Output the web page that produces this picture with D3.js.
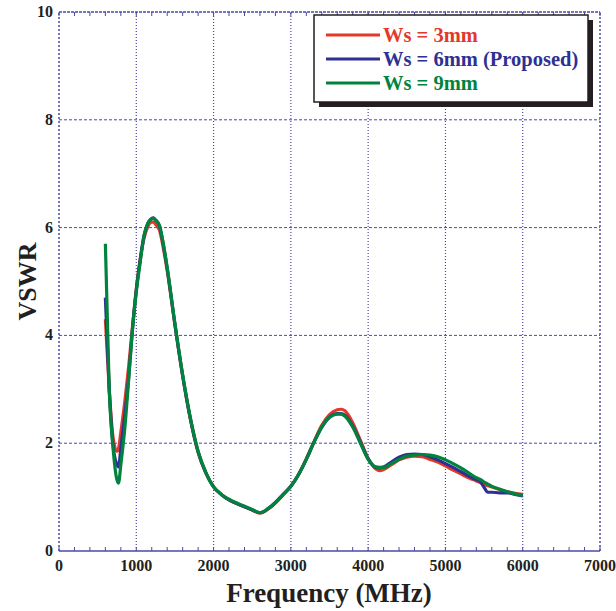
<!DOCTYPE html>
<html>
<head>
<meta charset="utf-8">
<script src="https://cdn.jsdelivr.net/npm/d3@7"></script>
<style>
  body { margin: 0; background: #fff; }
  svg { display: block; }
</style>
</head>
<body>
<div id="chart"></div>
<script>
// frequency points (MHz), shared by all three curves
var freq = [600, 650, 700, 750, 770, 800, 850, 900, 950, 1000, 1050, 1100, 1150, 1200, 1220, 1250, 1300, 1350, 1400,
    1500, 1600, 1700, 1800, 1900, 2000, 2100, 2200, 2300, 2400, 2500, 2600, 2700, 2800, 2900, 3000,
    3100, 3200, 3300, 3400, 3500, 3600, 3650, 3700, 3800, 3900, 4000, 4100, 4150, 4200, 4300, 4400,
    4500, 4600, 4700, 4800, 4900, 5000, 5100, 5200, 5300, 5400, 5450, 5500, 5550, 5600, 5700, 5800, 5900, 6000];

// VSWR, Ws = 3mm
var ws3 = [4.3, 3.0, 2.1, 1.85, 1.9, 2.2, 2.75, 3.4, 4.15, 4.85, 5.4, 5.8, 6.02, 6.1, 6.1, 6.06, 5.95, 5.62, 5.2,
    4.2, 3.25, 2.45, 1.83, 1.45, 1.19, 1.05, 0.95, 0.88, 0.82, 0.76, 0.70, 0.77, 0.89, 1.04, 1.2,
    1.42, 1.71, 2.03, 2.33, 2.53, 2.62, 2.63, 2.6, 2.38, 2.05, 1.72, 1.52, 1.49, 1.51, 1.6, 1.69,
    1.74, 1.76, 1.75, 1.7, 1.65, 1.58, 1.5, 1.43, 1.36, 1.3, 1.27, 1.24, 1.21, 1.19, 1.14, 1.1, 1.07, 1.05];

// VSWR, Ws = 6mm (proposed)
var ws6 = [4.7, 3.0, 1.95, 1.6, 1.56, 1.9, 2.5, 3.2, 4.1, 4.85, 5.4, 5.85, 6.08, 6.17, 6.18, 6.14, 6.03, 5.68, 5.24,
    4.2, 3.25, 2.45, 1.84, 1.45, 1.19, 1.05, 0.95, 0.88, 0.82, 0.76, 0.71, 0.78, 0.9, 1.05, 1.2,
    1.42, 1.7, 2.02, 2.3, 2.48, 2.55, 2.55, 2.52, 2.32, 2.02, 1.71, 1.55, 1.54, 1.56, 1.65, 1.74,
    1.79, 1.8, 1.79, 1.75, 1.69, 1.62, 1.55, 1.47, 1.39, 1.32, 1.29, 1.18, 1.09, 1.09, 1.08, 1.08, 1.05, 1.02];

// VSWR, Ws = 9mm
var ws9 = [5.7, 3.0, 1.9, 1.32, 1.26, 1.6, 2.25, 3.15, 4.1, 4.8, 5.35, 5.85, 6.08, 6.16, 6.17, 6.14, 6.04, 5.7, 5.26,
    4.22, 3.27, 2.47, 1.85, 1.46, 1.19, 1.05, 0.96, 0.89, 0.83, 0.77, 0.71, 0.78, 0.9, 1.05, 1.2,
    1.42, 1.7, 2.02, 2.3, 2.48, 2.54, 2.54, 2.5, 2.3, 2.0, 1.7, 1.56, 1.55, 1.55, 1.62, 1.7,
    1.76, 1.78, 1.79, 1.78, 1.75, 1.69, 1.62, 1.54, 1.45, 1.36, 1.33, 1.28, 1.24, 1.2, 1.15, 1.1, 1.06, 1.03];

var seriesNames = ['Ws = 3mm', 'Ws = 6mm (Proposed)', 'Ws = 9mm'];
var seriesColors = ['#e2392b', '#2e3192', '#00843d'];

var xTicks = [0, 1000, 2000, 3000, 4000, 5000, 6000, 7000];
var yTicks = [0, 2, 4, 6, 8, 10];

var width = 616, height = 611,
    gridColor = '#4a4aa6',
    font = '"Liberation Serif", "Times New Roman", serif';

var x = d3.scaleLinear().domain([0, 7000]).range([59, 600]),
    y = d3.scaleLinear().domain([0, 10]).range([551, 12]);

var svg = d3.select('#chart').append('svg')
    .attr('width', width).attr('height', height);

// grid lines
svg.append('g').selectAll('line')
    .data(xTicks.slice(1, -1))
    .enter().append('line')
    .attr('x1', d => x(d)).attr('x2', d => x(d))
    .attr('y1', y(0)).attr('y2', y(10))
    .attr('stroke', gridColor).attr('stroke-width', 1.2)
    .attr('stroke-dasharray', '1,2');

svg.append('g').selectAll('line')
    .data(yTicks.slice(1, -1))
    .enter().append('line')
    .attr('x1', x(0)).attr('x2', x(7000))
    .attr('y1', d => y(d)).attr('y2', d => y(d))
    .attr('stroke', gridColor).attr('stroke-width', 1)
    .attr('stroke-dasharray', '3,2');

// frame: left, top, right dashed; bottom solid
svg.append('line').attr('x1', x(0)).attr('x2', x(0)).attr('y1', y(0)).attr('y2', y(10))
    .attr('stroke', gridColor).attr('stroke-width', 1.5).attr('stroke-dasharray', '2,2');
svg.append('line').attr('x1', x(7000)).attr('x2', x(7000)).attr('y1', y(0)).attr('y2', y(10))
    .attr('stroke', gridColor).attr('stroke-width', 1.5).attr('stroke-dasharray', '2,2');
svg.append('line').attr('x1', x(0)).attr('x2', x(7000)).attr('y1', y(10)).attr('y2', y(10))
    .attr('stroke', gridColor).attr('stroke-width', 1.5).attr('stroke-dasharray', '3,1');
svg.append('line').attr('x1', x(0)).attr('x2', x(7000)).attr('y1', y(0)).attr('y2', y(0))
    .attr('stroke', gridColor).attr('stroke-width', 1.5);

// minor ticks along bottom and top
var minor = d3.range(0, 7001, 200);
svg.append('g').selectAll('line')
    .data(minor).enter().append('line')
    .attr('x1', d => x(d)).attr('x2', d => x(d))
    .attr('y1', y(0)).attr('y2', y(0) - 4)
    .attr('stroke', gridColor).attr('stroke-width', 1);
svg.append('g').selectAll('line')
    .data(minor).enter().append('line')
    .attr('x1', d => x(d)).attr('x2', d => x(d))
    .attr('y1', y(10)).attr('y2', y(10) + 4)
    .attr('stroke', gridColor).attr('stroke-width', 1);

// tick labels
svg.append('g').selectAll('text')
    .data(xTicks).enter().append('text')
    .attr('x', d => x(d)).attr('y', 571)
    .attr('text-anchor', 'middle')
    .style('font-family', font).style('font-weight', 'bold').style('font-size', '16px')
    .style('fill', '#231f20')
    .text(d => d);

svg.append('g').selectAll('text')
    .data(yTicks).enter().append('text')
    .attr('x', 53).attr('y', d => y(d) + 5)
    .attr('text-anchor', 'end')
    .style('font-family', font).style('font-weight', 'bold').style('font-size', '16px')
    .style('fill', '#231f20')
    .text(d => d);

// axis titles
svg.append('text')
    .attr('x', 329).attr('y', 602)
    .attr('text-anchor', 'middle')
    .style('font-family', font).style('font-weight', 'bold').style('font-size', '27px')
    .style('fill', '#231f20')
    .text('Frequency (MHz)');

svg.append('text')
    .attr('transform', 'translate(36,' + y(5) + ') rotate(-90)')
    .attr('text-anchor', 'middle')
    .style('font-family', font).style('font-weight', 'bold').style('font-size', '26px')
    .style('fill', '#231f20')
    .text('VSWR');

// curves
var line = d3.line()
    .x(d => x(d[0]))
    .y(d => y(d[1]))
    .curve(d3.curveMonotoneX);

[ws3, ws6, ws9].forEach(function (vals, i) {
    svg.append('path')
        .datum(freq.map((f, k) => [f, vals[k]]))
        .attr('d', line)
        .attr('fill', 'none')
        .attr('stroke', seriesColors[i])
        .attr('stroke-width', 3.2)
        .attr('stroke-linejoin', 'round');
});

// legend
var lg = svg.append('g').attr('transform', 'translate(314,15)');
lg.append('rect').attr('x', 5).attr('y', 5).attr('width', 274).attr('height', 87).attr('fill', '#231f20');
lg.append('rect').attr('width', 274).attr('height', 87)
    .attr('fill', '#fff').attr('stroke', '#231f20').attr('stroke-width', 1.5);

seriesNames.forEach(function (name, i) {
    var ly = 20 + i * 24;
    lg.append('line').attr('x1', 12).attr('x2', 66).attr('y1', ly).attr('y2', ly)
        .attr('stroke', seriesColors[i]).attr('stroke-width', 3);
    lg.append('text').attr('x', 69).attr('y', ly + 7)
        .style('font-family', font).style('font-weight', 'bold').style('font-size', '20.5px')
        .style('fill', seriesColors[i])
        .text(name);
});
</script>
</body>
</html>
